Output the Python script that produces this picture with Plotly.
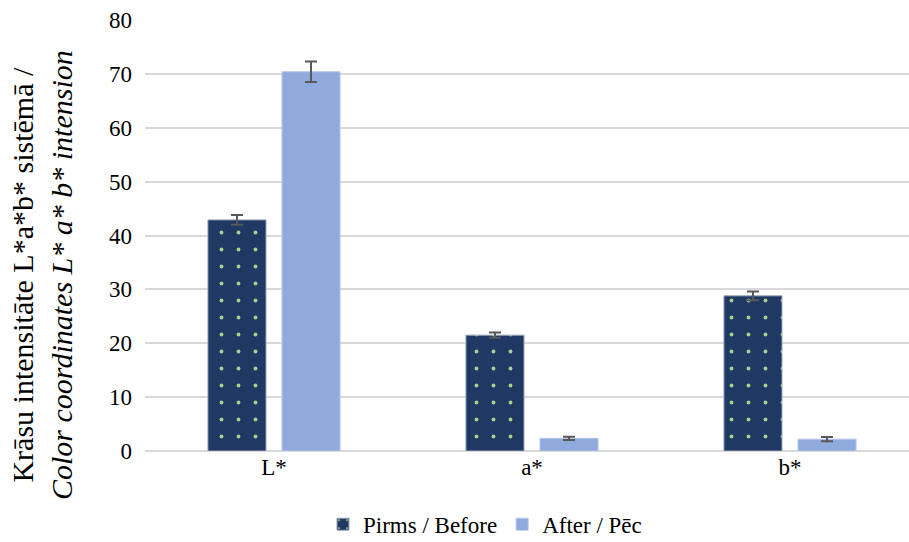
import plotly.graph_objects as go

# Colour coordinates before and after treatment
categories = ["L*", "a*", "b*"]
before_vals = [42.9, 21.5, 28.8]
before_err = [0.9, 0.5, 0.8]
after_vals = [70.4, 2.35, 2.2]
after_err = [1.9, 0.3, 0.4]
y_ticks = [0, 10, 20, 30, 40, 50, 60, 70, 80]

FONT = "'Times New Roman', 'Liberation Serif', 'DejaVu Serif', serif"
W, H = 909, 542
ML, MR, MT, MB = 145, 0, 20, 91

fig = go.Figure()
fig.add_trace(go.Bar(
    name="Pirms / Before",
    x=categories, y=before_vals,
    marker=dict(
        color="#203864",
        line=dict(color="#9aa6b8", width=1),
        pattern=dict(shape=".", fgcolor="#a9d18e", bgcolor="#203864",
                     size=17, solidity=0.04, fillmode="replace"),
    ),
    error_y=dict(type="data", array=before_err, color="#595959",
                 thickness=2, width=6),
))
fig.add_trace(go.Bar(
    name="After / Pēc",
    x=categories, y=after_vals,
    marker=dict(color="#8faadc", line=dict(color="#b4c7e7", width=1)),
    error_y=dict(type="data", array=after_err, color="#595959",
                 thickness=2, width=6),
))

plot_w = W - ML - MR
plot_h = H - MT - MB
cat_px = 258
x_hi = -0.5 + plot_w / cat_px

fig.update_layout(
    width=W, height=H,
    margin=dict(l=ML, r=MR, t=MT, b=MB, pad=0, autoexpand=False),
    paper_bgcolor="white", plot_bgcolor="white",
    barmode="group", bargap=0.426, bargroupgap=0.216,
    font=dict(family=FONT, size=23, color="#000000"),
    showlegend=True,
    legend=dict(orientation="h", x=0.445, xanchor="center", y=-0.17,
                yanchor="middle", font=dict(family=FONT, size=23),
                itemwidth=30, traceorder="normal"),
    xaxis=dict(range=[-0.5, x_hi], showgrid=False, showline=False,
               ticks="", automargin=False,
               tickfont=dict(family=FONT, size=23)),
    yaxis=dict(range=[0, 80], tickvals=y_ticks, showgrid=True,
               gridcolor="#d9d9d9", gridwidth=1.5, zeroline=True,
               zerolinecolor="#d9d9d9", zerolinewidth=1.5, showline=False,
               ticks="", ticklabelstandoff=12, automargin=False,
               tickfont=dict(family=FONT, size=23)),
    annotations=[dict(
        text="Krāsu intensitāte L*a*b* sistēmā /<br><i>Color coordinates L* a* b* intension</i>",
        xref="paper", yref="paper",
        x=(42 - ML) / plot_w, y=(H - MB - 275) / plot_h,
        xanchor="center", yanchor="middle", textangle=-90,
        showarrow=False, align="center",
        font=dict(family=FONT, size=30, color="#000000"),
    )],
)

fig.write_html("out.html")
